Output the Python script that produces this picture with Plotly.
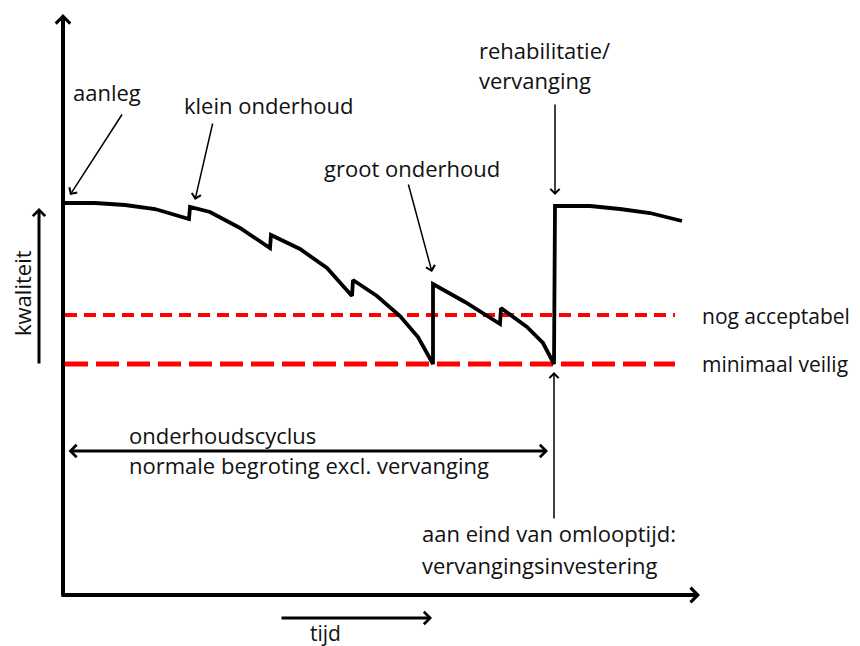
import plotly.graph_objects as go

# Coordinate frame: time (t) to the right, quality (q) upward, origin at axes crossing
curve_t = [2, 32, 62, 92, 126, 127, 147, 177, 207, 208, 237, 264, 289, 290, 314, 337, 355, 370,
           370, 402, 437, 438, 464, 480, 491, 492, 527, 557, 587, 619]
curve_q = [392, 392, 390, 386, 376, 388, 383, 367, 347, 360, 346, 327, 299, 315, 299, 279, 258, 231,
           311, 293, 271, 287, 268, 252, 231, 389, 389, 386, 382, 374]

threshold_names = ["nog acceptabel", "minimaal veilig"]
threshold_q = [280, 231]
threshold_t = [2, 612]

FONT = "Open Sans"
FS = 22
TXT = "#111111"

fig = go.Figure()

# thresholds
fig.add_trace(go.Scatter(x=threshold_t, y=[threshold_q[0]] * 2, mode="lines",
                         line=dict(color="#ff0000", width=4, dash="12px,7px"),
                         hoverinfo="skip", showlegend=False))
fig.add_trace(go.Scatter(x=threshold_t, y=[threshold_q[1]] * 2, mode="lines",
                         line=dict(color="#ff0000", width=5, dash="23px,8px"),
                         hoverinfo="skip", showlegend=False))
# quality curve
fig.add_trace(go.Scatter(x=curve_t, y=curve_q, mode="lines",
                         line=dict(color="black", width=3.8), line_shape="linear",
                         hoverinfo="skip", showlegend=False))

def arrow(hx, hy, tx, ty, w, size=1.0, head=4, side="end"):
    fig.add_annotation(x=hx, y=hy, ax=tx, ay=ty, xref="x", yref="y", axref="x", ayref="y",
                       showarrow=True, arrowhead=head, startarrowhead=head, arrowside=side,
                       arrowwidth=w, arrowsize=size, startarrowsize=size,
                       arrowcolor="black", text="")

def label(x, y, text, xanchor="left", angle=0, size=FS):
    fig.add_annotation(x=x, y=y, xref="x", yref="y", text=text, showarrow=False,
                       xanchor=xanchor, yanchor="middle", textangle=angle,
                       font=dict(family=FONT, size=size, color=TXT))

# axes
arrow(0, 581, 0, -2, 4, 0.7)
arrow(637, 0, -3, 0, 4, 0.7)
# kwaliteit / tijd arrows
arrow(-24, 387, -24, 230, 3, 0.8)
arrow(369, -23, 217, -23, 3, 0.8)
# maintenance-cycle double arrow
arrow(485, 144, 4, 144, 3, 0.8, side="end+start")
# pointer arrows
arrow(491, 223, 491, 75, 1.5, 1.2)
arrow(492, 400, 492, 492, 1.5, 1.2)
arrow(369, 323, 345, 412, 1.5, 1.2)
arrow(132, 395, 150, 473, 1.5, 1.2)
arrow(7, 400, 60, 482, 1.5, 1.2)

# labels
label(8, 503, "aanleg")
label(119, 490, "klein onderhoud")
label(259, 427, "groot onderhoud")
label(414, 545, "rehabilitatie/")
label(414, 515, "vervanging")
label(637, threshold_q[0] - 1, threshold_names[0], size=21)
label(637, threshold_q[1], threshold_names[1], size=21)
label(64, 160, "onderhoudscyclus")
label(64, 130, "normale begroting excl. vervanging")
label(357, 62, "aan eind van omlooptijd:")
label(357, 30, "vervangingsinvestering")
label(262, -38, "tijd", xanchor="center", size=21)
label(-41, 302, "kwaliteit", xanchor="center", angle=-90)

# page body adds an 8px offset; the figure is sized to fit the window and
# the ranges compensate so the drawing lands where the reference has it
fig.update_layout(
    width=852, height=638, margin=dict(l=0, r=0, t=0, b=0),
    paper_bgcolor="white", plot_bgcolor="white",
    xaxis=dict(range=[-55, 797], visible=False, fixedrange=True),
    yaxis=dict(range=[-51, 587], visible=False, fixedrange=True),
    showlegend=False,
)

fig.write_html("out.html")
